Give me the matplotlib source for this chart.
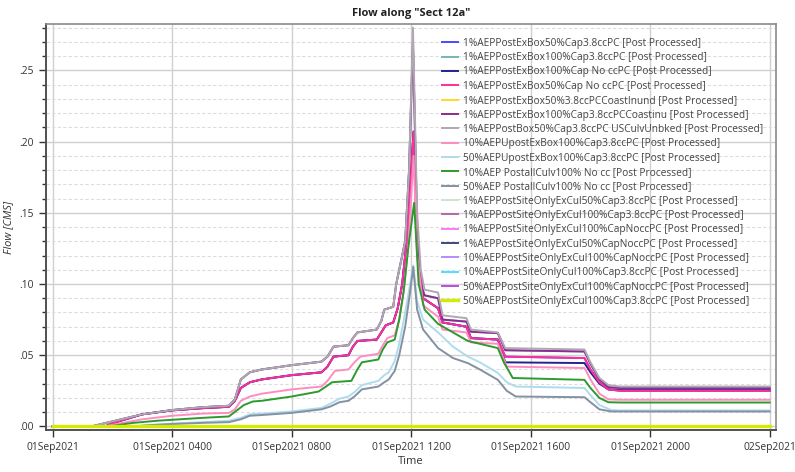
import matplotlib
matplotlib.use("Agg")
import matplotlib.pyplot as plt
from matplotlib.ticker import MultipleLocator, FuncFormatter

plt.rcParams['font.family'] = ['Open Sans', 'DejaVu Sans']

# hours after 01Sep2021 0000 and flow in CMS
gray_t = [0, 1.3, 1.6, 2.0, 3.0, 4.0, 5.0, 5.9, 6.1, 6.3, 6.6, 7.0, 8.0, 9.0, 9.2, 9.4, 9.9, 10.05, 10.2, 10.85,
          11.0, 11.1, 11.4, 11.5, 11.65, 11.8, 11.93, 12.06, 12.2, 12.32, 12.45, 12.9, 13.05, 13.85, 14.0, 14.9,
          15.15, 17.8, 18.0, 18.3, 18.6, 19.0, 24.0]
gray_q = [0, 0, 0.0015, 0.0035, 0.0085, 0.0115, 0.0135, 0.0145, 0.019, 0.033, 0.038, 0.040, 0.043, 0.0455, 0.049,
          0.056, 0.057, 0.062, 0.066, 0.068, 0.074, 0.082, 0.084, 0.100, 0.115, 0.13, 0.18, 0.28, 0.15, 0.11,
          0.096, 0.094, 0.078, 0.076, 0.068, 0.066, 0.055, 0.054, 0.045, 0.034, 0.029, 0.028, 0.028]
purple_q = [0, 0, 0.0015, 0.0035, 0.0085, 0.0115, 0.0135, 0.0145, 0.019, 0.033, 0.038, 0.040, 0.043, 0.0455, 0.049,
            0.056, 0.057, 0.062, 0.066, 0.068, 0.074, 0.082, 0.084, 0.100, 0.115, 0.13, 0.18, 0.27, 0.14, 0.10,
            0.092, 0.090, 0.075, 0.0736, 0.0665, 0.0655, 0.0535, 0.0526, 0.044, 0.033, 0.0275, 0.027, 0.027]

magenta_t = [0, 1.75, 2.0, 2.2, 3.0, 4.0, 5.0, 5.9, 6.1, 6.3, 6.6, 7.0, 8.0, 9.0, 9.2, 9.4, 9.9, 10.05, 10.2, 10.85,
             11.0, 11.15, 11.4, 11.55, 11.7, 11.85, 11.95, 12.08, 12.2, 12.4, 12.9, 13.05, 13.85, 14.0, 14.9, 15.15,
             17.8, 18.0, 18.3, 18.6, 19.0, 24.0]
magenta_q = [0, 0, 0.002, 0.0035, 0.0085, 0.0113, 0.0128, 0.0138, 0.018, 0.027, 0.031, 0.033, 0.036, 0.038, 0.042,
             0.049, 0.050, 0.056, 0.060, 0.061, 0.066, 0.071, 0.073, 0.083, 0.10, 0.13, 0.16, 0.207, 0.13, 0.09,
             0.083, 0.073, 0.070, 0.062, 0.061, 0.049, 0.048, 0.040, 0.031, 0.026, 0.025, 0.025]
navy_q = [0, 0, 0.002, 0.0035, 0.0085, 0.0113, 0.0128, 0.0138, 0.018, 0.027, 0.031, 0.033, 0.036, 0.038, 0.042,
          0.049, 0.050, 0.056, 0.060, 0.061, 0.066, 0.071, 0.073, 0.083, 0.10, 0.13, 0.16, 0.207, 0.13, 0.09,
          0.083, 0.073, 0.070, 0.062, 0.061, 0.045, 0.0445, 0.038, 0.030, 0.026, 0.0255, 0.0255]

lpink_t = [0, 1.8, 2.1, 3.0, 4.0, 5.0, 5.9, 6.1, 6.3, 6.6, 7.0, 8.0, 9.0, 9.2, 9.45, 9.9, 10.1, 10.3, 10.9, 11.05,
           11.2, 11.45, 11.6, 11.75, 11.9, 12.08, 12.2, 12.4, 12.9, 13.05, 13.85, 14.0, 14.9, 15.2, 17.8, 18.0,
           18.3, 18.6, 19.0, 24.0]
lpink_q = [0, 0, 0.0015, 0.005, 0.0075, 0.009, 0.0095, 0.012, 0.018, 0.021, 0.023, 0.026, 0.028, 0.032, 0.039,
           0.040, 0.045, 0.049, 0.051, 0.057, 0.062, 0.064, 0.075, 0.095, 0.125, 0.19, 0.12, 0.085, 0.077, 0.068,
           0.066, 0.059, 0.058, 0.042, 0.041, 0.033, 0.023, 0.019, 0.0187, 0.0187]

green_t = [0, 1.9, 2.2, 2.7, 3.5, 5.0, 5.9, 6.15, 6.4, 6.7, 7.0, 8.0, 8.9, 9.15, 9.35, 10.0, 10.2, 10.35, 10.9, 11.05,
           11.2, 11.45, 11.6, 11.75, 11.9, 12.1, 12.25, 12.45, 12.9, 13.4, 13.9, 14.9, 15.1, 15.4, 17.8, 18.0,
           18.3, 18.6, 19.0, 24.0]
green_q = [0, 0, 0.001, 0.0025, 0.004, 0.006, 0.007, 0.011, 0.015, 0.0175, 0.018, 0.021, 0.0245, 0.028, 0.031,
           0.032, 0.040, 0.045, 0.047, 0.054, 0.059, 0.061, 0.075, 0.095, 0.125, 0.157, 0.10, 0.082, 0.072, 0.066,
           0.060, 0.055, 0.045, 0.034, 0.0327, 0.027, 0.020, 0.017, 0.0168, 0.0168]

lblue_t = [0, 2.7, 3.2, 4.0, 5.0, 5.9, 6.3, 6.6, 7.0, 8.0, 9.0, 9.3, 9.6, 9.9, 10.1, 10.35, 10.9, 11.1, 11.25, 11.45,
           11.6, 11.8, 11.95, 12.07, 12.2, 12.4, 12.9, 13.4, 13.9, 14.3, 14.9, 15.2, 15.5, 17.8, 18.0, 18.3, 18.7,
           19.0, 24.0]
lblue_q = [0, 0, 0.001, 0.002, 0.003, 0.004, 0.006, 0.0085, 0.009, 0.0105, 0.013, 0.016, 0.0195, 0.021, 0.024,
           0.029, 0.032, 0.036, 0.038, 0.046, 0.058, 0.08, 0.098, 0.113, 0.088, 0.075, 0.066, 0.056, 0.049, 0.045,
           0.0376, 0.031, 0.028, 0.027, 0.022, 0.015, 0.0115, 0.0112, 0.0112]
gblue_q = [0, 0, 0.0008, 0.0017, 0.0025, 0.003, 0.005, 0.0075, 0.008, 0.0095, 0.012, 0.014, 0.017, 0.018, 0.021,
           0.026, 0.028, 0.031, 0.033, 0.039, 0.05, 0.07, 0.092, 0.112, 0.082, 0.068, 0.055, 0.048, 0.0444, 0.040,
           0.0327, 0.025, 0.021, 0.0205, 0.017, 0.012, 0.0105, 0.0105, 0.0105]

zero_t = [0, 24]
zero_q = [0, 0]

profiles = {
    'gray': (gray_t, gray_q), 'purple': (gray_t, purple_q),
    'magenta': (magenta_t, magenta_q), 'navy': (magenta_t, navy_q),
    'lpink': (lpink_t, lpink_q), 'green': (green_t, green_q),
    'lblue': (lblue_t, lblue_q), 'gblue': (lblue_t, gblue_q),
    'zero': (zero_t, zero_q),
}

labels = [
    '1%AEPPostExBox50%Cap3.8ccPC [Post Processed]',
    '1%AEPPostExBox100%Cap3.8ccPC [Post Processed]',
    '1%AEPPostExBox100%Cap No ccPC [Post Processed]',
    '1%AEPPostExBox50%Cap No ccPC [Post Processed]',
    '1%AEPPostExBox50%3.8ccPCCoastInund [Post Processed]',
    '1%AEPPostExBox100%Cap3.8ccPCCoastinu [Post Processed]',
    '1%AEPPostBox50%Cap3.8ccPC USCulvUnbked [Post Processed]',
    '10%AEPUpostExBox100%Cap3.8ccPC [Post Processed]',
    '50%AEPUpostExBox100%Cap3.8ccPC [Post Processed]',
    '10%AEP PostallCulv100% No cc [Post Processed]',
    '50%AEP PostallCulv100% No cc [Post Processed]',
    '1%AEPPostSiteOnlyExCul50%Cap3.8ccPC [Post Processed]',
    '1%AEPPostSiteOnlyExCul100%Cap3.8ccPC [Post Processed]',
    '1%AEPPostSiteOnlyExCul100%CapNoccPC [Post Processed]',
    '1%AEPPostSiteOnlyExCul50%CapNoccPC [Post Processed]',
    '10%AEPPostSiteOnlyExCul100%CapNoccPC [Post Processed]',
    '10%AEPPostSiteOnlyCul100%Cap3.8ccPC [Post Processed]',
    '50%AEPPostSiteOnlyExCul100%CapNoccPC [Post Processed]',
    '50%AEPPostSiteOnlyExCul100%Cap3.8ccPC [Post Processed]',
]
series_profile = ['magenta', 'purple', 'navy', 'magenta', 'zero', 'purple', 'gray', 'lpink', 'lblue', 'green',
                  'gblue', 'zero', 'zero', 'zero', 'zero', 'zero', 'zero', 'zero', 'zero']
colors = ['#4a4aff', '#78b4b4', '#23238f', '#ff2f97', '#ffd92e', '#8e2a92', '#b0a8b0', '#ff8cc0', '#aedcec',
          '#2e9a2e', '#8391a2', '#cfe3cf', '#b06aa8', '#ff7af0', '#3f4878', '#b48cff', '#4fe0ff', '#b94ee0',
          '#d3ec00']

time_ticks = [0, 4, 8, 12, 16, 20, 24]
time_labels = ['01Sep2021', '01Sep2021 0400', '01Sep2021 0800', '01Sep2021 1200',
               '01Sep2021 1600', '01Sep2021 2000', '02Sep2021']

fig = plt.figure(figsize=(7.95, 4.72), dpi=100)
ax = fig.add_axes([0.0575, 0.089, 0.919, 0.860])

for lab, prof, col in zip(labels, series_profile, colors):
    t, q = profiles[prof]
    lw = 2.4 if col == '#d3ec00' else 1.4
    ax.plot(t, q, color=col, lw=lw, label=lab, solid_joinstyle='round')

ax.set_xlim(-0.23, 24.22)
ax.set_ylim(-0.0025, 0.2825)
ax.set_xticks(time_ticks)
ax.set_xticklabels(time_labels)
ax.yaxis.set_major_locator(MultipleLocator(0.05))
ax.yaxis.set_minor_locator(MultipleLocator(0.01))
ax.yaxis.set_major_formatter(FuncFormatter(lambda v, p: f'{v:.2f}'.replace('0.', '.', 1)))

ax.grid(True, which='major', axis='both', color='#d0d0d0', lw=1.0)
ax.grid(True, which='minor', axis='y', color='#dcdcdc', lw=0.8, ls=(0, (3, 2)))
ax.set_axisbelow(True)

for s in ['left', 'bottom']:
    ax.spines[s].set_color('#505050')
    ax.spines[s].set_linewidth(1.4)
for s in ['top', 'right']:
    ax.spines[s].set_color('#8a8a8a')
    ax.spines[s].set_linewidth(1.2)
ax.tick_params(axis='both', which='major', labelsize=7.4, colors='#333333', length=5, width=1.0, direction='out')
ax.tick_params(axis='y', which='minor', length=3, width=1.0, color='#333333')

ax.set_title('Flow along "Sect 12a"', fontsize=8, fontweight='bold', color='#222222', pad=6)
ax.set_xlabel('Time', fontsize=8, color='#333333', labelpad=2)
ax.set_ylabel('Flow [CMS]', fontsize=8, color='#333333', labelpad=4, fontstyle='italic')

ax.legend(loc='upper left', bbox_to_anchor=(0.547, 0.935), bbox_transform=fig.transFigure, frameon=False,
          fontsize=7.3, handlelength=1.6, handletextpad=0.5, labelspacing=0.33, borderpad=0.2,
          labelcolor='#444444')

fig.savefig('out.png', dpi=100, facecolor='white')
